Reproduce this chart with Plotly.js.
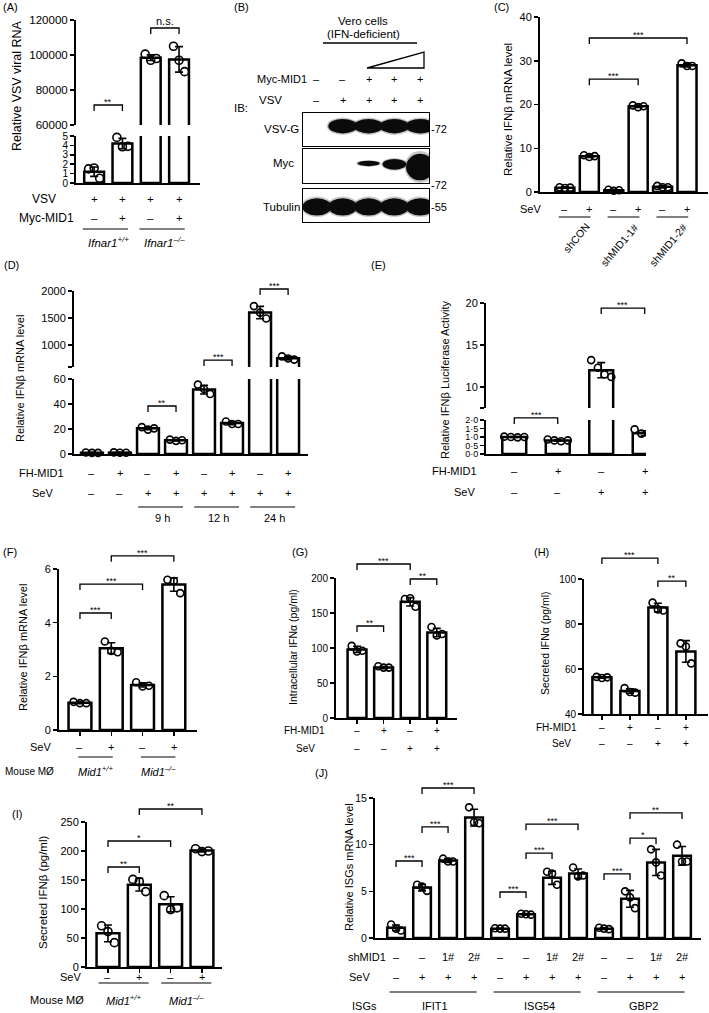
<!DOCTYPE html>
<html>
<head>
<meta charset="utf-8">
<script src="https://cdn.plot.ly/plotly-3.0.1.min.js"></script>
<style>
  html, body { margin: 0; padding: 0; background: #fff; }
  #fig { width: 709px; height: 1013px; }
</style>
</head>
<body>
<div id="fig"></div>
<script>
/* MID1 figure: ten panels on one Plotly canvas
   ------------------------------------------------ */
const W = 709, H = 1013;
const FONT = 'Liberation Sans, Arial, Helvetica, sans-serif';

/* ---------- data ---------- */
// (A) VSV viral RNA
const A_MEAN = [1.2, 4.2, 98500, 97500];
const A_SD   = [0.5, 0.55, 1600, 7300];
const A_PTS  = [[1.5, 1.6, 0.5], [4.85, 3.85, 3.9], [100500, 97000, 98000], [105000, 97000, 90500]];
const A_VSV  = ['+', '+', '+', '+'];
const A_MYC  = ['–', '+', '–', '+'];
const A_GROUPS = ['<i>Ifnar1<sup>+/+</sup></i>', '<i>Ifnar1<sup>–/–</sup></i>'];

// (B) western blot, band strength per lane (0 = none)
const B_MYC  = ['–', '–', '+', '+', '+'];
const B_VSV  = ['–', '+', '+', '+', '+'];
const B_VSVG_LVL = [0, 1, 1, 1, 1];
const B_MYC_LVL  = [0, 0, 0.2, 0.4, 1];
const B_TUB_LVL  = [1, 1, 1, 1, 1];

// (C) shRNA knock-down
const C_MEAN = [1.0, 8.2, 0.4, 19.6, 1.2, 29.0];
const C_SD   = [0.15, 0.3, 0.2, 0.3, 0.25, 0.4];
const C_PTS  = [[1.1, 0.9, 1.0], [8.4, 8.0, 8.2], [0.5, 0.3, 0.4], [19.8, 19.4, 19.6], [1.4, 1.1, 1.1], [29.4, 28.8, 28.8]];
const C_SEV  = ['–', '+', '–', '+', '–', '+'];
const C_GROUPS = ['shCON', 'shMID1-1#', 'shMID1-2#'];

// (D) time course
const D_MEAN = [1.0, 1.1, 20.5, 11.0, 51.5, 24.7, 1600, 755];
const D_SD   = [0.3, 0.3, 1.0, 0.5, 3.5, 1.2, 115, 30];
const D_PTS  = [[1.2, 0.9, 0.9], [1.3, 1.0, 1.0], [21.5, 19.5, 20.5], [11.5, 10.5, 11], [55.5, 52, 48], [26, 24, 24], [1720, 1600, 1490], [790, 750, 730]];
const D_FH   = ['–', '+', '–', '+', '–', '+', '–', '+'];
const D_SEV  = ['–', '–', '+', '+', '+', '+', '+', '+'];
const D_GROUPS = ['9 h', '12 h', '24 h'];

// (E) luciferase
const E_MEAN = [1.0, 0.8, 12.0, 1.22];
const E_SD   = [0.03, 0.05, 0.9, 0.15];
const E_PTS  = [[1.02, 1.0, 0.98, 1.0], [0.85, 0.8, 0.75, 0.8], [13.2, 12.3, 11.5, 11.2], [1.45, 1.2, 1.15, 1.1]];
const E_TICKS = ['0·0', '0·5', '1·0', '1·5', '2·0'];

// (F) mouse macrophages IFNb mRNA
const F_MEAN = [1.02, 3.05, 1.68, 5.42];
const F_SD   = [0.04, 0.2, 0.08, 0.25];
const F_PTS  = [[1.05, 1.0, 1.0], [3.3, 2.95, 2.9], [1.78, 1.62, 1.65], [5.6, 5.55, 5.1]];

// (G) intracellular IFNa
const G_MEAN = [98, 72, 166, 122];
const G_SD   = [4.5, 1.5, 6, 6];
const G_PTS  = [[103, 95, 96], [74, 72, 72], [170, 171, 159], [130, 118, 120]];

// (H) secreted IFNa
const H_MEAN = [56.3, 50.2, 87.3, 67.8];
const H_SD   = [0.4, 1.0, 1.9, 4.8];
const H_PTS  = [[56.5, 56, 56.3], [51.5, 49.8, 49.5], [89.5, 86.5, 86], [71.4, 70, 62.5]];

// (I) secreted IFNb
const I_MEAN = [58, 142, 108, 201];
const I_SD   = [14.5, 11, 13, 2.5];
const I_PTS  = [[71, 61, 42], [151, 147, 130], [123, 99, 102], [204, 199, 200]];

// (J) ISGs
const J_MEAN = [1.1, 5.4, 8.3, 12.9, 1.0, 2.55, 6.45, 6.9, 1.0, 4.2, 8.1, 8.8];
const J_SD   = [0.3, 0.35, 0.2, 0.9, 0.05, 0.08, 0.7, 0.5, 0.08, 0.9, 1.4, 1.0];
const J_PTS  = [[1.45, 1.0, 0.8], [5.7, 5.5, 5.05], [8.5, 8.2, 8.2], [14.0, 12.4, 12.3],
                [1.05, 1.0, 1.0], [2.6, 2.55, 2.5], [7.1, 6.9, 5.7], [7.55, 6.6, 6.7],
                [1.1, 1.0, 0.95], [5.0, 4.35, 3.2], [9.5, 8.1, 6.7], [10.0, 8.2, 8.2]];
const J_SH   = ['–', '–', '1#', '2#', '–', '–', '1#', '2#', '–', '–', '1#', '2#'];
const J_SEV  = ['–', '+', '+', '+', '–', '+', '+', '+', '–', '+', '+', '+'];
const J_GROUPS = ['IFIT1', 'ISG54', 'GBP2'];

// shared row labels
const FH_4  = ['–', '+', '–', '+'];
const SEV_4 = ['–', '–', '+', '+'];
const SEV_PM = ['–', '+', '–', '+'];
const MID1_GROUPS = ['<i>Mid1<sup>+/+</sup></i>', '<i>Mid1<sup>–/–</sup></i>'];

/* ---------- helpers ---------- */
const px = x => x / W;
const py = y => 1 - y / H;
const sfx = n => n === 1 ? '' : String(n);

const traces = [], shapes = [], annos = [];
const layout = {
  width: W, height: H,
  margin: { l: 0, r: 0, t: 0, b: 0 },
  paper_bgcolor: '#fff', plot_bgcolor: 'rgba(0,0,0,0)',
  showlegend: false,
  font: { family: FONT, color: '#000' }
};
let nx = 0, ny = 0;

function note(text, x, y, size, xanchor, xref, extra) {
  annos.push(Object.assign({
    text: text, showarrow: false,
    xref: xref || 'paper', yref: 'paper',
    x: xref ? x : px(x), y: py(y),
    xanchor: xanchor || 'center', yanchor: 'middle',
    font: { family: FONT, size: size || 11, color: '#000' }
  }, extra || {}));
}
function hline(x0, x1, y, xref, w) {
  shapes.push({
    type: 'line', xref: xref || 'paper', yref: 'paper',
    x0: xref ? x0 : px(x0), x1: xref ? x1 : px(x1), y0: py(y), y1: py(y),
    line: { color: '#000', width: w || 1 }
  });
}

/* one bar panel (segs listed bottom first, several = broken axis) */
function addPanel(p) {
  const xn = ++nx, xid = 'x' + sfx(xn);
  const idx = p.mean.map((_, i) => i);
  const segs = p.segs.map(s => {
    const n = ++ny;
    return Object.assign({ yid: 'y' + sfx(n), key: 'yaxis' + sfx(n) }, s);
  });

  layout['xaxis' + sfx(xn)] = {
    domain: [px(p.x[0]), px(p.x[1])], range: p.xr, anchor: segs[0].yid,
    showline: true, linewidth: 2, linecolor: '#000',
    showgrid: false, zeroline: false, showticklabels: false,
    ticks: p.xticks ? 'outside' : '', tickvals: idx, ticklen: 4, tickwidth: 1.5, tickcolor: '#000',
    fixedrange: true
  };

  segs.forEach(s => {
    layout[s.key] = {
      domain: [py(s.bot), py(s.top)], range: s.r, anchor: xid,
      showline: true, linewidth: 2, linecolor: '#000',
      showgrid: false, zeroline: false,
      ticks: 'outside', ticklen: 4, tickwidth: 1.5, tickcolor: '#000',
      tickvals: s.tv, ticktext: s.tt || s.tv.map(String),
      tickfont: { family: FONT, size: s.fs || p.fs || 11, color: '#000' },
      fixedrange: true
    };
    traces.push({
      type: 'bar', xaxis: xid, yaxis: s.yid, x: idx, y: p.mean, width: p.bw,
      marker: { color: '#fff', line: { color: '#000', width: 2.5 } },
      error_y: { type: 'data', array: p.sd, visible: true, color: '#000', thickness: 1.6, width: 4 },
      hoverinfo: 'skip'
    });
    const xs = [], ys = [];
    p.pts.forEach((grp, i) => grp.forEach((v, k) => {
      xs.push(i + (k - (grp.length - 1) / 2) * p.bw * 0.28);
      ys.push(v);
    }));
    traces.push({
      type: 'scatter', mode: 'markers', xaxis: xid, yaxis: s.yid, x: xs, y: ys,
      cliponaxis: false, hoverinfo: 'skip',
      marker: { symbol: 'circle-open', size: p.ms || 7, color: '#000', line: { width: 1.6, color: '#000' } }
    });
  });

  // significance brackets [i, j, value, label, segment]
  (p.br || []).forEach(([i, j, v, lab, si]) => {
    const s = segs[si || 0];
    const yp = s.bot - (v - s.r[0]) / (s.r[1] - s.r[0]) * (s.bot - s.top);
    shapes.push({
      type: 'path', xref: xid, yref: 'paper',
      path: `M${i},${py(yp + 6)} L${i},${py(yp)} L${j},${py(yp)} L${j},${py(yp + 6)}`,
      line: { color: '#000', width: 1.3 }
    });
    if (lab === 'n.s.') note(lab, (i + j) / 2, yp - 7, 11, 'center', xid);
    else note(lab, (i + j) / 2, yp - 3, 9, 'center', xid);
  });

  // +/- rows under the axis
  (p.rows || []).forEach(r => r.vals.forEach((v, i) => note(v, i, r.y, p.rfs || 11, 'center', xid)));
  (p.titles || []).forEach(t => note(t.text, t.x, t.y, t.fs || p.rfs || 11, t.a || 'right'));

  // group underlines and labels
  if (p.groups) {
    const g = p.groups;
    g.spans.forEach(([a, b], k) => {
      hline(a + g.pad[0], b + g.pad[1], g.y, xid, 1);
      if (g.rot) {
        note(g.labels[k], b + 0.2, g.ly, g.fs || 10, 'right', xid, { textangle: -50, yanchor: 'top' });
      } else {
        note(g.labels[k], (a + b) / 2, g.ly, g.fs || 11, 'center', xid);
      }
    });
  }

  note(p.ytitle.text, p.ytitle.x, p.ytitle.y, p.ytitle.fs || 11, 'center', null, { textangle: -90 });
  note(p.tag[0], p.tag[1], p.tag[2], 11, 'left');
}

/* western blot panel (B) */
function addBlot() {
  const rows = [
    { top: 113, bot: 146, lvl: B_VSVG_LVL, w: () => 1.12, h: () => 0.44, c: () => 0.6 },
    { top: 149, bot: 183, lvl: B_MYC_LVL,  w: l => 0.8 + 0.3 * l, h: l => 0.78 * l, c: l => 0.6 - 0.13 * l },
    { top: 189, bot: 222, lvl: B_TUB_LVL,  w: () => 1.12, h: () => 0.52, c: () => 0.46 }
  ];
  let laneX = null;
  rows.forEach(r => {
    const xn = ++nx, yn = ++ny;
    const xid = 'x' + sfx(xn), yid = 'y' + sfx(yn);
    laneX = laneX || xid;
    const box = { showline: true, mirror: true, linewidth: 1.3, linecolor: '#000',
      showgrid: false, zeroline: false, showticklabels: false, ticks: '', fixedrange: true };
    layout['xaxis' + sfx(xn)] = Object.assign({ domain: [px(303), px(429)], range: [-0.54, 4.34], anchor: yid }, box);
    layout['yaxis' + sfx(yn)] = Object.assign({ domain: [py(r.bot), py(r.top)], range: [0, 1], anchor: xid }, box);
    traces.push({ type: 'scatter', x: [], y: [], xaxis: xid, yaxis: yid, hoverinfo: 'skip' });
    r.lvl.forEach((l, i) => {
      if (!l) return;
      const w = r.w(l), h = r.h(l), c = r.c(l);
      shapes.push({ type: 'circle', xref: xid, yref: yid,
        x0: i - w * 0.55, x1: i + w * 0.55, y0: c - h * 0.6, y1: c + h * 0.6,
        fillcolor: 'rgba(30,30,30,0.25)', line: { width: 0 } });
      shapes.push({ type: 'circle', xref: xid, yref: yid,
        x0: i - w / 2, x1: i + w / 2, y0: c - h / 2, y1: c + h / 2,
        fillcolor: '#0b0b0b', line: { width: 0 } });
    });
  });

  B_MYC.forEach((v, i) => note(v, i, 79, 11, 'center', laneX));
  B_VSV.forEach((v, i) => note(v, i, 100, 11, 'center', laneX));
  note('Myc-MID1', 255, 79, 11, 'left');
  note('VSV', 257, 100, 11.5, 'left');
  note('IB:', 232, 108, 11.5, 'left');
  note('VSV-G', 281, 129, 11.5);
  note('Myc', 283, 163, 11.5);
  note('Tubulin', 281, 207, 11.5);
  note('-72', 429, 129, 11, 'left');
  note('-72', 429, 185, 11, 'left');
  note('-55', 429, 207, 11, 'left');
  note('Vero cells', 363, 21, 11.5);
  note('(IFN-deficient)', 363, 34, 11.5);
  hline(323, 417, 43, null, 1.5);
  shapes.push({ type: 'path', xref: 'paper', yref: 'paper',
    path: `M${px(367)},${py(68)} L${px(424)},${py(52)} L${px(424)},${py(68)} Z`,
    line: { color: '#000', width: 1.3 }, fillcolor: '#fff' });
  note('(B)', 232, 7, 11, 'left');
}

/* ---------- panels ---------- */
addPanel({ // (A)
  x: [76, 200], xr: [-0.64, 3.74], bw: 0.7, fs: 11.5, ms: 8,
  mean: A_MEAN, sd: A_SD, pts: A_PTS,
  segs: [
    { top: 136, bot: 183, r: [0, 5], tv: [0, 1, 2, 3, 4, 5], fs: 10 },
    { top: 20, bot: 125, r: [60000, 120000], tv: [60000, 80000, 100000, 120000] }
  ],
  br: [[0, 1, 71430, '**', 1], [2, 3, 115430, 'n.s.', 1]],
  rows: [{ y: 199, vals: A_VSV }, { y: 218, vals: A_MYC }], rfs: 11.5,
  titles: [{ text: 'VSV', x: 44, y: 199, a: 'center', fs: 12 }, { text: 'Myc-MID1', x: 47, y: 218, a: 'center', fs: 12 }],
  groups: { labels: A_GROUPS, spans: [[0, 1], [2, 3]], pad: [-0.4, 0.2], y: 229, ly: 242, fs: 11.5 },
  ytitle: { text: 'Relative VSV viral RNA', x: 17, y: 86, fs: 12.5 },
  tag: ['(A)', 1, 7]
});

addBlot();

addPanel({ // (C)
  x: [540, 708], xr: [-1.02, 5.86], bw: 0.78, fs: 11, ms: 7,
  mean: C_MEAN, sd: C_SD, pts: C_PTS,
  segs: [{ top: 17, bot: 192, r: [0, 40], tv: [0, 10, 20, 30, 40] }],
  br: [[1, 3, 25.8, '***'], [1, 5, 35.2, '***']],
  rows: [{ y: 209, vals: C_SEV }],
  titles: [{ text: 'SeV', x: 543, y: 209 }],
  groups: { labels: C_GROUPS, spans: [[0, 1], [2, 3], [4, 5]], pad: [-0.25, 0.05], y: 217, ly: 218, rot: true, fs: 10.5 },
  ytitle: { text: 'Relative IFNβ mRNA level', x: 508, y: 110, fs: 11.5 },
  tag: ['(C)', 492, 7]
});

addPanel({ // (D)
  x: [74, 308], xr: [-0.64, 7.71], bw: 0.78, fs: 11, ms: 7,
  mean: D_MEAN, sd: D_SD, pts: D_PTS,
  segs: [
    { top: 379, bot: 454, r: [0, 60], tv: [0, 20, 40, 60] },
    { top: 291, bot: 367, r: [593, 2000], tv: [593, 1000, 1500, 2000], tt: ['', '1000', '1500', '2000'] }
  ],
  br: [[2, 3, 38.4, '**', 0], [4, 5, 722, '***', 1], [6, 7, 2037, '***', 1]],
  rows: [{ y: 473, vals: D_FH }, { y: 493, vals: D_SEV }],
  titles: [{ text: 'FH-MID1', x: 41, y: 473, a: 'center' }, { text: 'SeV', x: 42, y: 493, a: 'center' }],
  groups: { labels: D_GROUPS, spans: [[2, 3], [4, 5], [6, 7]], pad: [-0.35, 0.25], y: 507, ly: 518 },
  ytitle: { text: 'Relative IFNβ mRNA level', x: 20, y: 379 },
  tag: ['(D)', 2, 265]
});

addPanel({ // (E)
  x: [486, 646], xr: [-0.65, 3.03], bw: 0.55, fs: 11, ms: 7,
  mean: E_MEAN, sd: E_SD, pts: E_PTS,
  segs: [
    { top: 420, bot: 454, r: [0, 2], tv: [0, 0.5, 1, 1.5, 2], tt: E_TICKS, fs: 9 },
    { top: 303, bot: 408, r: [7.5, 20], tv: [7.5, 10, 15, 20], tt: ['', '10', '15', '20'] }
  ],
  br: [[0, 1, 2.12, '***', 0], [2, 3, 19.4, '***', 1]],
  rows: [{ y: 471, vals: FH_4 }, { y: 492, vals: SEV_4 }],
  titles: [{ text: 'FH-MID1', x: 479, y: 471 }, { text: 'SeV', x: 477, y: 492 }],
  ytitle: { text: 'Relative IFNβ Luciferase Activity', x: 445, y: 380 },
  tag: ['(E)', 369, 265]
});

addPanel({ // (F)
  x: [59, 197], xr: [-0.67, 3.74], bw: 0.73, fs: 11, ms: 7, xticks: true,
  mean: F_MEAN, sd: F_SD, pts: F_PTS,
  segs: [{ top: 569, bot: 730, r: [0, 6], tv: [0, 2, 4, 6] }],
  br: [[0, 1, 4.36, '***'], [0, 2, 5.44, '***'], [1, 3, 6.49, '***']],
  rows: [{ y: 747, vals: SEV_PM }],
  titles: [{ text: 'SeV', x: 53, y: 747 }, { text: 'Mouse MØ', x: 3, y: 771, fs: 10, a: 'left' }],
  groups: { labels: MID1_GROUPS, spans: [[0, 1], [2, 3]], pad: [-0.05, 0.05], y: 757, ly: 771 },
  ytitle: { text: 'Relative IFNβ mRNA level', x: 23, y: 648 },
  tag: ['(F)', 1, 552]
});

addPanel({ // (G)
  x: [336, 457], xr: [-0.79, 3.76], bw: 0.71, fs: 10, ms: 7, xticks: true,
  mean: G_MEAN, sd: G_SD, pts: G_PTS,
  segs: [{ top: 578, bot: 718, r: [0, 200], tv: [0, 50, 100, 150, 200] }],
  br: [[0, 1, 131.4, '**'], [2, 3, 198.6, '**'], [0, 2, 220, '***']],
  rows: [{ y: 730, vals: FH_4 }, { y: 748, vals: SEV_4 }], rfs: 10,
  titles: [{ text: 'FH-MID1', x: 304, y: 730, a: 'center' }, { text: 'SeV', x: 305, y: 748, a: 'center' }],
  ytitle: { text: 'Intracellular IFNα (pg/ml)', x: 293, y: 647, fs: 10.5 },
  tag: ['(G)', 290, 552]
});

addPanel({ // (H)
  x: [584, 708], xr: [-0.64, 3.79], bw: 0.68, fs: 10, ms: 7, xticks: true,
  mean: H_MEAN, sd: H_SD, pts: H_PTS,
  segs: [{ top: 579, bot: 714, r: [40, 100], tv: [40, 60, 80, 100] }],
  br: [[2, 3, 99.1, '**'], [0, 2, 109.3, '***']],
  rows: [{ y: 727, vals: FH_4 }, { y: 743, vals: SEV_4 }], rfs: 10,
  titles: [{ text: 'FH-MID1', x: 556, y: 727, a: 'center' }, { text: 'SeV', x: 561, y: 743, a: 'center' }],
  ytitle: { text: 'Secreted IFNα (pg/ml)', x: 545, y: 643, fs: 10.5 },
  tag: ['(H)', 532, 552]
});

addPanel({ // (I)
  x: [87, 222], xr: [-0.67, 3.64], bw: 0.73, fs: 11, ms: 8, xticks: true,
  mean: I_MEAN, sd: I_SD, pts: I_PTS,
  segs: [{ top: 822, bot: 967, r: [0, 250], tv: [0, 50, 100, 150, 200, 250] }],
  br: [[0, 1, 172.4, '**'], [0, 2, 217.2, '*'], [1, 3, 272.4, '**']],
  rows: [{ y: 977, vals: SEV_PM }],
  titles: [{ text: 'SeV', x: 83, y: 977 }, { text: 'Mouse MØ', x: 86, y: 1000 }],
  groups: { labels: MID1_GROUPS, spans: [[0, 1], [2, 3]], pad: [-0.3, 0.3], y: 983, ly: 1000 },
  ytitle: { text: 'Secreted IFNβ (pg/ml)', x: 43, y: 892, fs: 11.5 },
  tag: ['(I)', 10, 814]
});

addPanel({ // (J)
  x: [375, 701], xr: [-0.81, 11.73], bw: 0.68, fs: 10.5, ms: 7,
  mean: J_MEAN, sd: J_SD, pts: J_PTS,
  segs: [{ top: 798, bot: 938, r: [0, 15], tv: [0, 5, 10, 15] }],
  br: [[0, 1, 8.25, '***'], [1, 2, 11.9, '***'], [1, 3, 16.07, '***'],
       [4, 5, 4.93, '***'], [5, 6, 9.1, '***'], [5, 7, 12.2, '***'],
       [8, 9, 6.86, '***'], [9, 10, 10.7, '*'], [9, 11, 13.4, '**']],
  rows: [{ y: 957, vals: J_SH }, { y: 977, vals: J_SEV }],
  titles: [{ text: 'shMID1', x: 346, y: 957, a: 'left' }, { text: 'SeV', x: 347, y: 977, a: 'left' },
           { text: 'ISGs', x: 350, y: 1006, a: 'left' }],
  groups: { labels: J_GROUPS, spans: [[0, 3], [4, 7], [8, 11]], pad: [-0.25, 0.1], y: 992, ly: 1006 },
  ytitle: { text: 'Relative ISGs mRNA level', x: 349, y: 867 },
  tag: ['(J)', 313, 773]
});

layout.shapes = shapes;
layout.annotations = annos;

Plotly.newPlot('fig', traces, layout, { staticPlot: true, displayModeBar: false });
</script>
</body>
</html>
